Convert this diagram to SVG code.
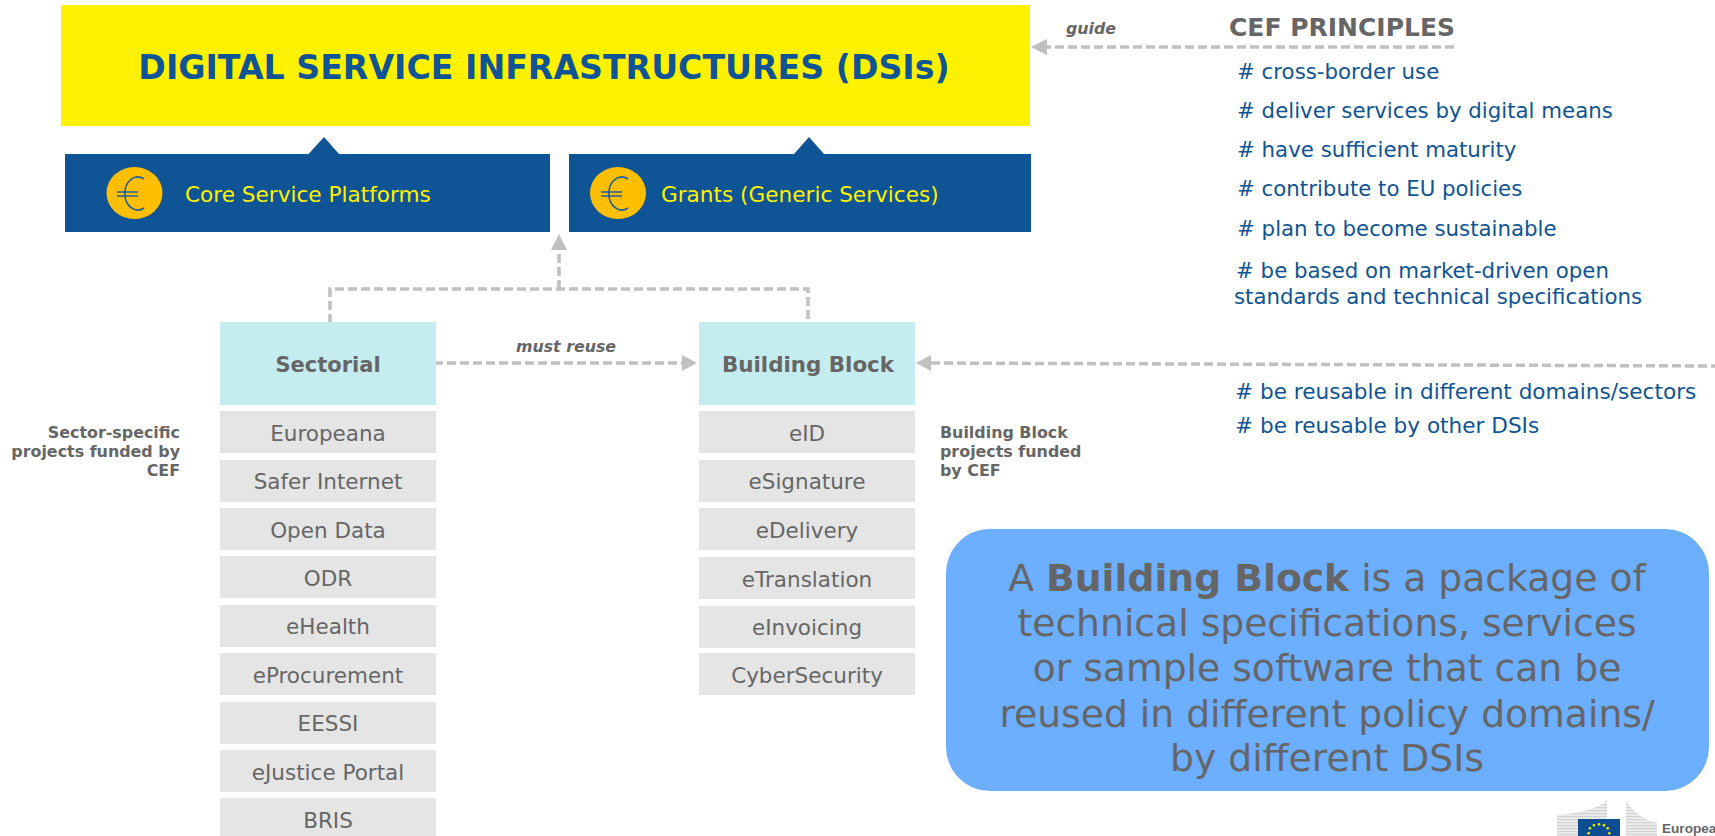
<svg xmlns="http://www.w3.org/2000/svg" width="1715" height="836" viewBox="0 0 1715 836">
<style>
text{font-family:"DejaVu Sans","Liberation Sans",sans-serif}
.hd{fill:#0f5494;font-size:21.3px}
.hd2{font-size:21.6px}
.li{fill:#666;font-size:21.5px;text-anchor:middle}
.row{fill:#e5e5e5}
.tt{fill:#c5ecef}
.b{font-weight:bold;fill:#666}
.plat{fill:#0f5494}
.coin{fill:#ffbe00}
.eu{fill:none;stroke:#1f5fa0;stroke-width:1.6}
.lb{fill:#fff200;font-size:21.6px}
.c{fill:none;stroke:#c0c0c0;stroke-width:3.5;stroke-dasharray:9 4}
.h{fill:#c0c0c0}
.sm{font-size:15.9px;text-anchor:end}
.sl{font-size:15.9px}
.it{font-size:15.8px;font-style:italic;font-weight:bold;fill:#666}
.call{font-size:37.7px;fill:#666;text-anchor:middle}
.logo-t{font-family:"Liberation Sans",sans-serif;font-size:13.6px;font-weight:bold;fill:#666}
.star{fill:#ffed00}
</style>
<defs><pattern id="st" width="4" height="3" patternUnits="userSpaceOnUse"><rect width="4" height="3" fill="#ececec"/><rect width="4" height="1.200" fill="#d2d2d2"/></pattern></defs>
<rect id="dsi-bg" x="61" y="5" width="969" height="121" fill="#fff200"/>
<g id="dsi"><text x="544" y="79" text-anchor="middle" font-size="33.2" font-weight="bold" fill="#0f5494">DIGITAL SERVICE INFRASTRUCTURES (DSIs)</text></g>
<g id="core"><path class="plat" d="M65 154H308.500L324 137L339 154H550V232H65Z"/><ellipse class="coin" cx="134.500" cy="193" rx="28" ry="26"/><path class="eu" d="M144 179A13 16.500 0 1 0 144 208M117 192H138M117 196H138"/><text class="lb" x="185" y="202">Core Service Platforms</text></g>
<g id="grants"><path class="plat" d="M569 154H794L809 137L824 154H1031V232H569Z"/><ellipse class="coin" cx="618" cy="193" rx="28" ry="26"/><path class="eu" d="M628 179A13 16.500 0 1 0 628 208M601 192H622M601 196H622"/><text class="lb" x="661" y="202">Grants (Generic Services)</text></g>
<g id="connectors">
<path class="c" d="M330 323V289H808V322M559 289V250M434 363H683M1454 47H1047M931 363L1715 366"/>
<path class="h" d="M559 234L567 250H551ZM697 363L682 355V371ZM916 363L931 355V371ZM1031 47L1047 39V55Z"/>
</g>
<g id="sectorial"><rect class="tt" x="220" y="322" width="216" height="83"/><text class="b" x="328" y="372" font-size="21" text-anchor="middle">Sectorial</text></g>
<g id="building-block"><rect class="tt" x="699" y="322" width="216" height="83"/><text class="b" x="808" y="372" font-size="21.400" text-anchor="middle">Building Block</text></g>
<g id="n-europeana"><rect class="row" x="220" y="411" width="216" height="42"/><text class="li" x="328" y="441">Europeana</text></g>
<g id="n-safer"><rect class="row" x="220" y="460" width="216" height="42"/><text class="li" x="328" y="489">Safer Internet</text></g>
<g id="n-open"><rect class="row" x="220" y="508" width="216" height="42"/><text class="li" x="328" y="538">Open Data</text></g>
<g id="n-odr"><rect class="row" x="220" y="556" width="216" height="42"/><text class="li" x="328" y="586">ODR</text></g>
<g id="n-ehealth"><rect class="row" x="220" y="605" width="216" height="42"/><text class="li" x="328" y="634">eHealth</text></g>
<g id="n-eproc"><rect class="row" x="220" y="653" width="216" height="42"/><text class="li" x="328" y="683">eProcurement</text></g>
<g id="n-eessi"><rect class="row" x="220" y="702" width="216" height="42"/><text class="li" x="328" y="731">EESSI</text></g>
<g id="n-ejustice"><rect class="row" x="220" y="750" width="216" height="42"/><text class="li" x="328" y="780">eJustice Portal</text></g>
<g id="n-bris"><rect class="row" x="220" y="798" width="216" height="38"/><text class="li" x="328" y="828">BRIS</text></g>
<g id="n-eid"><rect class="row" x="699" y="411" width="216" height="42"/><text class="li" x="807" y="441">eID</text></g>
<g id="n-esig"><rect class="row" x="699" y="460" width="216" height="42"/><text class="li" x="807" y="489">eSignature</text></g>
<g id="n-edel"><rect class="row" x="699" y="508" width="216" height="42"/><text class="li" x="807" y="538">eDelivery</text></g>
<g id="n-etrans"><rect class="row" x="699" y="557" width="216" height="42"/><text class="li" x="807" y="587">eTranslation</text></g>
<g id="n-einv"><rect class="row" x="699" y="606" width="216" height="42"/><text class="li" x="807" y="635">eInvoicing</text></g>
<g id="n-cyber"><rect class="row" x="699" y="653" width="216" height="42"/><text class="li" x="807" y="683">CyberSecurity</text></g>
<g id="sector-note"><text class="b sm" x="180" y="438">Sector-specific</text><text class="b sm" x="180" y="457">projects funded by</text><text class="b sm" x="180" y="476">CEF</text></g>
<g id="bb-note"><text class="b sl" x="940" y="438">Building Block</text><text class="b sl" x="940" y="457">projects funded</text><text class="b sl" x="940" y="476">by CEF</text></g>
<text class="it" x="516" y="352">must reuse</text>
<text class="it" x="1066" y="34">guide</text>
<g id="principles">
<text class="b" x="1229" y="36" font-size="25">CEF PRINCIPLES</text>
<text class="hd" x="1237" y="79">#  cross-border use</text>
<text class="hd" x="1237" y="118">#  deliver services by digital means</text>
<text class="hd" x="1237" y="157">#  have sufficient maturity</text>
<text class="hd" x="1237" y="196">#  contribute to EU policies</text>
<text class="hd" x="1237" y="236">#  plan to become sustainable</text>
<text class="hd" x="1236" y="278">#  be based on market-driven open</text>
<text class="hd" x="1234" y="304">standards and technical specifications</text>
<text class="hd hd2" x="1235" y="399">#  be reusable in different domains/sectors</text>
<text class="hd hd2" x="1235" y="433">#  be reusable by other DSIs</text>
</g>
<g id="callout"><rect x="946" y="529" width="763" height="262" rx="44" fill="#6caeff"/>
<text class="call" x="1327" y="591">A <tspan font-weight="bold">Building Block</tspan> is a package of</text>
<text class="call" x="1327" y="636">technical specifications, services</text>
<text class="call" x="1327" y="681">or sample software that can be</text>
<text class="call" x="1327" y="727">reused in different policy domains/</text>
<text class="call" x="1327" y="771">by different DSIs</text></g>
<g id="logo"><path d="M1557 815Q1595 812 1607 800V836H1557Z" fill="url(#st)"/><path d="M1626 800Q1636 818 1657 823V836H1626Z" fill="url(#st)"/><rect x="1578" y="819" width="42" height="17" fill="#0f4d92"/>
<circle class="star" cx="1599" cy="824.300" r="1.300"/><circle class="star" cx="1594" cy="825.300" r="1.300"/><circle class="star" cx="1604" cy="825.300" r="1.300"/><circle class="star" cx="1590" cy="828.300" r="1.300"/><circle class="star" cx="1607.700" cy="828.300" r="1.300"/><circle class="star" cx="1588.700" cy="833.300" r="1.300"/><circle class="star" cx="1609.300" cy="833.300" r="1.300"/>
<text class="logo-t" x="1662" y="833">European</text></g>
</svg>
